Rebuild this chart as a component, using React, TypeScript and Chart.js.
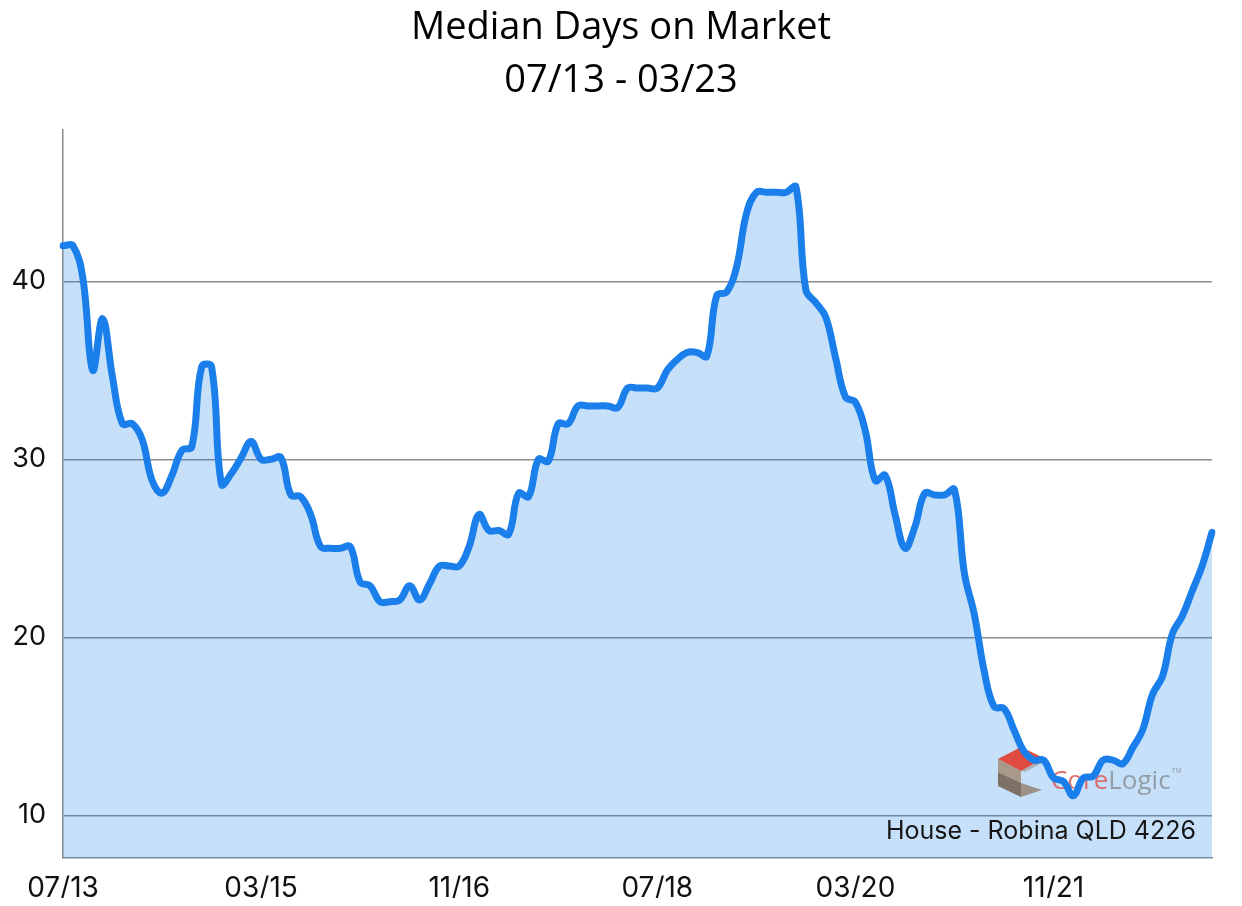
import React, { useEffect, useRef } from "react";
import { Chart, registerables } from "chart.js";

Chart.register(...registerables);

const titleLines: string[] = ["Median Days on Market", "07/13 - 03/23"];
const footnote = "House - Robina QLD 4226";

// Monthly categories 07/13 .. 03/23
const months: string[] = (() => {
  const out: string[] = [];
  let m = 7;
  let y = 13;
  while (!(y === 23 && m === 4)) {
    out.push(String(m).padStart(2, "0") + "/" + String(y).padStart(2, "0"));
    m++;
    if (m > 12) {
      m = 1;
      y++;
    }
  }
  return out;
})();

const tickLabels: string[] = ["07/13", "03/15", "11/16", "07/18", "03/20", "11/21"];
const yTicks: number[] = [10, 20, 30, 40];

const medianDays: number[] = [
  42.0, 42.0, 40.2, 35.0, 37.9, 34.6, 32.0, 32.0, 31.1, 28.8,
  28.1, 29.1, 30.5, 30.7, 35.2, 35.2, 28.6, 29.2, 30.1, 31.0,
  30.0, 30.0, 30.1, 28.0, 27.9, 26.9, 25.1, 25.0, 25.0, 25.1,
  23.1, 22.9, 22.0, 22.0, 22.1, 22.9, 22.1, 23.0, 24.0, 24.0,
  24.0, 25.1, 26.9, 26.0, 26.0, 25.8, 28.1, 27.9, 30.0, 29.9,
  32.0, 32.0, 33.0, 33.0, 33.0, 33.0, 32.9, 34.0, 34.0, 34.0,
  34.0, 35.0, 35.6, 36.0, 36.0, 35.8, 39.2, 39.4, 40.8, 43.8,
  45.0, 45.0, 45.0, 45.0, 45.3, 39.5, 38.8, 38.0, 35.7, 33.5,
  33.2, 31.6, 28.8, 29.1, 26.9, 25.0, 26.2, 28.1, 28.0, 28.0,
  28.3, 23.6, 21.3, 18.1, 16.1, 16.0, 14.8, 13.6, 13.1, 13.1,
  12.1, 11.9, 11.1, 12.1, 12.2, 13.1, 13.1, 12.9, 13.8, 14.8,
  16.8, 17.8, 20.2, 21.2, 22.6, 24.0, 25.9,
];

const LINE_COLOR = "#1a7fea";
const FILL_COLOR = "rgba(22,128,235,0.245)";
const GRID_COLOR = "#8c8c8c";
const TICK_FONT = "Inter, 'DejaVu Sans', Arial, sans-serif";

const overlayPlugin = {
  id: "overlayPlugin",
  beforeDraw(chart: any) {
    const ctx = chart.ctx as CanvasRenderingContext2D;
    ctx.save();
    ctx.fillStyle = "#000";
    ctx.textAlign = "center";
    ctx.textBaseline = "alphabetic";
    ctx.font = "400 38px 'Open Sans', Lato, sans-serif";
    const cx = chart.width / 2;
    ctx.fillText(titleLines[0], cx, 31);
    ctx.fillText(titleLines[1], cx, 84);
    ctx.restore();
  },
  afterDatasetDraw(chart: any, args: any) {
    if (args.index !== 0) return;
    const ctx = chart.ctx as CanvasRenderingContext2D;
    const ox = -8;
    const oy = -8;
    const P = (x: number, y: number): [number, number] => [x + ox, y + oy];
    const poly = (pts: [number, number][], color: string) => {
      ctx.beginPath();
      ctx.moveTo(pts[0][0], pts[0][1]);
      for (let i = 1; i < pts.length; i++) ctx.lineTo(pts[i][0], pts[i][1]);
      ctx.closePath();
      ctx.fillStyle = color;
      ctx.fill();
    };
    ctx.save();
    // cube icon
    poly([P(998, 759), P(1021, 747), P(1044, 758), P(1021, 771)], "rgba(226,64,48,0.92)");
    poly([P(998, 759), P(1021, 771), P(1021, 783), P(998, 772)], "rgba(165,145,125,0.9)");
    poly([P(998, 772), P(1021, 783), P(1021, 797), P(998, 786)], "rgba(118,100,84,0.9)");
    poly([P(1021, 771), P(1044, 758), P(1044, 762), P(1025, 772)], "rgba(150,132,116,0.5)");
    poly([P(1021, 783), P(1042, 790), P(1021, 797)], "rgba(150,132,116,0.85)");
    // CoreLogic text
    ctx.textAlign = "left";
    ctx.textBaseline = "alphabetic";
    ctx.font = "400 26px 'Open Sans', Arial, sans-serif";
    ctx.fillStyle = "rgba(222,90,90,0.85)";
    ctx.fillText("Core", 1051 + ox, 789 + oy);
    const w = ctx.measureText("Core").width;
    ctx.fillStyle = "rgba(140,145,152,0.85)";
    ctx.fillText("Logic", 1051 + w + ox, 789 + oy);
    const w2 = ctx.measureText("Logic").width;
    ctx.font = "400 7px 'Liberation Sans', Arial, sans-serif";
    ctx.fillText("TM", 1051 + w + w2 + 1 + ox, 773 + oy);
    ctx.restore();
  },
  afterDatasetsDraw(chart: any) {
    const ctx = chart.ctx as CanvasRenderingContext2D;
    ctx.save();
    ctx.fillStyle = "#161616";
    ctx.textAlign = "right";
    ctx.textBaseline = "alphabetic";
    ctx.font = "400 25px " + TICK_FONT;
    ctx.fillText(footnote, 1196 - 8, 839 - 8);
    ctx.restore();
  },
};

export default function App() {
  const ref = useRef<HTMLCanvasElement | null>(null);

  useEffect(() => {
    if (!ref.current) return;
    const chart = new Chart(ref.current, {
      type: "line",
      data: {
        labels: months,
        datasets: [
          {
            label: "fill",
            data: medianDays,
            borderWidth: 0,
            borderColor: "rgba(0,0,0,0)",
            backgroundColor: FILL_COLOR,
            fill: "start",
            pointRadius: 0,
            tension: 0.4,
            order: 2,
          },
          {
            label: "Median Days on Market",
            data: medianDays,
            borderColor: LINE_COLOR,
            borderWidth: 7,
            borderCapStyle: "round",
            borderJoinStyle: "round",
            fill: false,
            pointRadius: 0,
            tension: 0.4,
            order: 1,
          },
        ],
      },
      options: {
        animation: false,
        responsive: true,
        maintainAspectRatio: false,
        layout: { padding: { top: 122, right: 22, left: 0, bottom: 0 } },
        plugins: {
          legend: { display: false },
          tooltip: { enabled: false },
          title: { display: false },
        },
        scales: {
          x: {
            type: "category",
            offset: false,
            grid: { display: false, drawTicks: false },
            border: { display: true, color: GRID_COLOR, width: 1.5 },
            ticks: {
              autoSkip: false,
              maxRotation: 0,
              minRotation: 0,
              padding: 14,
              color: "#111",
              font: { family: TICK_FONT, size: 28 },
              callback: (_v: any, i: number) =>
                tickLabels.includes(months[i]) ? months[i] : "",
            },
            afterFit: (s: any) => {
              s.height = 40;
            },
          },
          y: {
            min: 7.6,
            max: 48.5,
            afterBuildTicks: (s: any) => {
              s.ticks = yTicks.map((v) => ({ value: v }));
            },
            afterFit: (s: any) => {
              s.width = 55;
            },
            grid: { color: GRID_COLOR, lineWidth: 1.5, drawTicks: false },
            border: { display: true, color: GRID_COLOR, width: 1.5 },
            ticks: {
              padding: 17,
              color: "#111",
              font: { family: TICK_FONT, size: 27 },
            },
          },
        },
      },
      plugins: [overlayPlugin],
    });
    return () => chart.destroy();
  }, []);

  return (
    <div style={{ width: 1226, height: 890, position: "relative" }}>
      <canvas ref={ref} />
    </div>
  );
}
